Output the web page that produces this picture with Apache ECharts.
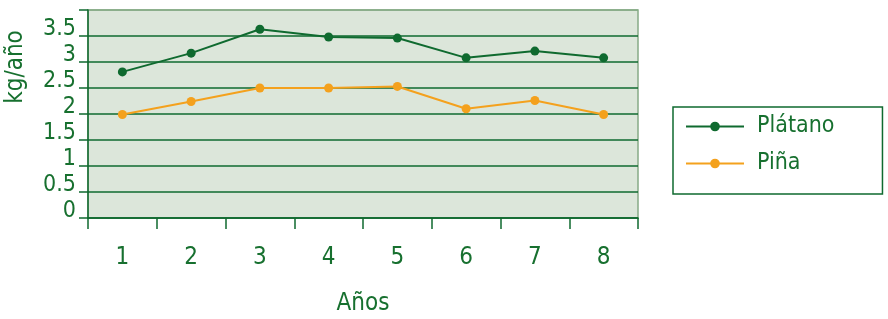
<!DOCTYPE html>
<html>
<head>
<meta charset="utf-8">
<script src="https://cdn.jsdelivr.net/npm/echarts@6/dist/echarts.min.js"></script>
<style>
  html, body { margin: 0; padding: 0; background: #fff; }
  #chart { width: 888px; height: 319px; }
</style>
</head>
<body>
<div id="chart"></div>
<script>
// datos
const years = ['1', '2', '3', '4', '5', '6', '7', '8'];
const platano = [2.81, 3.17, 3.63, 3.48, 3.46, 3.08, 3.21, 3.08];
const pina = [1.99, 2.24, 2.5, 2.5, 2.53, 2.1, 2.26, 1.99];
const yTicks = [0, 0.5, 1, 1.5, 2, 2.5, 3, 3.5];

const green = '#0f6a2f';
const textGreen = '#17702f';
const orange = '#f4a11d';
const border = '#86ab86';
const font = "'DejaVu Sans Condensed', 'Liberation Sans Narrow', sans-serif";

const chart = echarts.init(document.getElementById('chart'));

// la línea superior (4) coincide con el borde claro del área
const gridColors = yTicks.map(() => green).concat([border]);

chart.setOption({
  animation: false,
  textStyle: { fontFamily: font, color: textGreen },
  grid: {
    left: 88, right: 250, top: 10, bottom: 101,
    outerBoundsMode: 'none',
    containLabel: false,
    show: true,
    backgroundColor: '#dce6da',
    borderColor: border,
    borderWidth: 1.5
  },
  legend: {
    left: 673, top: 107,
    orient: 'vertical',
    itemWidth: 58,
    itemHeight: 12,
    itemGap: 14,
    padding: [8, 48, 19, 12],
    borderColor: green,
    borderWidth: 1.5,
    textStyle: { fontFamily: font, fontSize: 23, color: textGreen, padding: [0, 0, 0, 8] },
    data: ['Plátano', 'Piña']
  },
  graphic: [{
    type: 'text',
    x: 16, y: 67,
    rotation: Math.PI / 2,
    style: {
      text: 'kg/año',
      font: '24px ' + font,
      fill: textGreen,
      align: 'center',
      verticalAlign: 'middle'
    }
  }],
  xAxis: {
    type: 'category',
    data: years,
    boundaryGap: true,
    name: 'Años',
    nameLocation: 'middle',
    nameGap: 74,
    nameTextStyle: { fontFamily: font, fontSize: 24, color: textGreen },
    axisLine: { lineStyle: { color: green, width: 1.5 } },
    axisTick: { show: true, length: 11, lineStyle: { color: green, width: 1.5 } },
    axisLabel: { fontFamily: font, fontSize: 24, color: textGreen, margin: 28 },
    splitLine: { show: false }
  },
  yAxis: {
    type: 'value',
    min: 0, max: 4, interval: 0.5,
    axisLine: { show: true, lineStyle: { color: green, width: 1.5 } },
    axisTick: { show: true, length: 9, lineStyle: { color: green, width: 1.5 } },
    axisLabel: {
      fontFamily: font, fontSize: 23, color: textGreen, margin: 12,
      verticalAlign: 'bottom',
      lineHeight: 14,
      formatter: v => (yTicks.includes(v) ? String(v) : '')
    },
    splitLine: { lineStyle: { color: gridColors, width: 1.5 } }
  },
  series: [
    {
      name: 'Plátano',
      type: 'line',
      data: platano,
      symbol: 'circle',
      symbolSize: 9,
      itemStyle: { color: green },
      lineStyle: { color: green, width: 2 }
    },
    {
      name: 'Piña',
      type: 'line',
      data: pina,
      symbol: 'circle',
      symbolSize: 9,
      itemStyle: { color: orange },
      lineStyle: { color: orange, width: 2 }
    }
  ]
});
</script>
</body>
</html>
